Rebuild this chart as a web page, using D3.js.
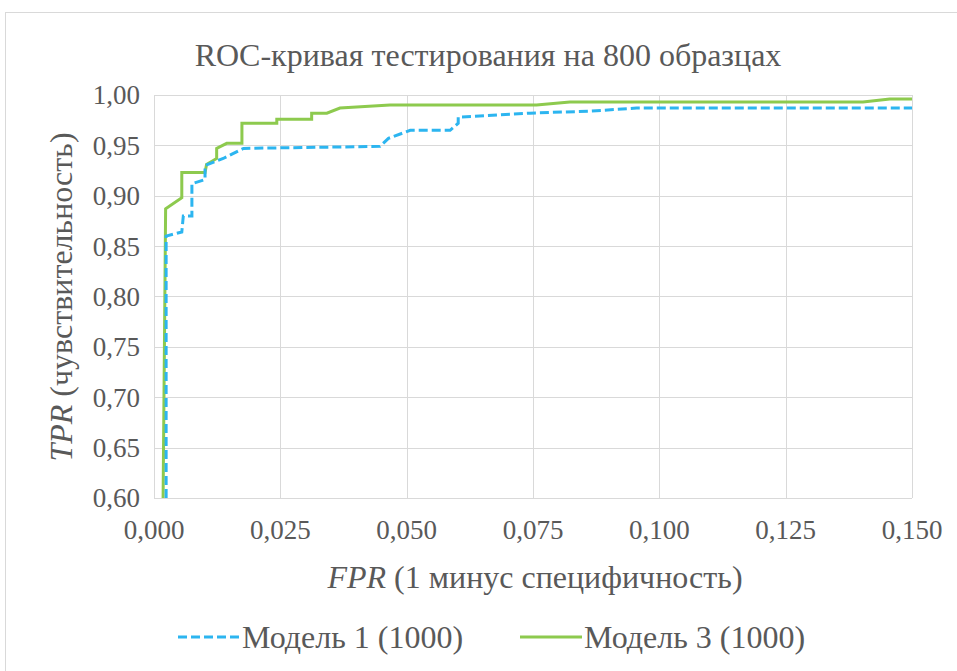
<!DOCTYPE html>
<html>
<head>
<meta charset="utf-8" />
<title>ROC</title>
<script src="https://cdn.jsdelivr.net/npm/d3@7"></script>
<style>
	html, body { margin: 0; background: #fff; }
	svg text { font-family: 'Liberation Serif', 'DejaVu Serif', 'Times New Roman', serif; fill: #595959; }
</style>
</head>
<body>
<svg id="chart" width="957" height="671"></svg>
<script>
// data
var xTicks = [0, 0.025, 0.05, 0.075, 0.1, 0.125, 0.15];
var yTicks = [0.6, 0.65, 0.7, 0.75, 0.8, 0.85, 0.9, 0.95, 1.0];

var model1 = [
	[0.0024, 0.600], [0.0024, 0.860], [0.0055, 0.864], [0.0058, 0.880],
	[0.0075, 0.880], [0.0075, 0.912], [0.0101, 0.916], [0.0101, 0.930],
	[0.0137, 0.937], [0.0177, 0.947], [0.0447, 0.949], [0.0464, 0.957],
	[0.0507, 0.965], [0.0586, 0.965], [0.0602, 0.972], [0.0602, 0.978],
	[0.0744, 0.982], [0.0863, 0.984], [0.0955, 0.987], [0.150, 0.987]
];
var model3 = [
	[0.0018, 0.600], [0.0023, 0.887], [0.0055, 0.898], [0.0055, 0.923],
	[0.0101, 0.923], [0.0104, 0.931], [0.0124, 0.937], [0.0124, 0.947],
	[0.0144, 0.952], [0.0174, 0.952], [0.0174, 0.972], [0.0243, 0.972],
	[0.0243, 0.976], [0.0312, 0.976], [0.0312, 0.982], [0.0342, 0.982],
	[0.0368, 0.987], [0.0467, 0.990], [0.0757, 0.990], [0.0823, 0.993],
	[0.1403, 0.993], [0.1456, 0.996], [0.150, 0.996]
];
var seriesNames = ["Модель 1 (1000)", "Модель 3 (1000)"];
var seriesColors = ["#2cb5f0", "#8dca4e"];

var svg = d3.select("#chart");
var fmt = function(d, n) { return d.toFixed(n).replace(".", ","); };

// chart frame
svg.append("rect").attr("x", 5.5).attr("y", 12.5).attr("width", 1000).attr("height", 1000)
	.attr("fill", "none").attr("stroke", "#d9d9d9");

var x = d3.scaleLinear().domain([0, 0.15]).range([154, 912]);
var y = d3.scaleLinear().domain([0.6, 1.0]).range([498, 95]);

// grid
svg.append("g").selectAll("line").data(yTicks).enter().append("line")
	.attr("x1", x(0)).attr("x2", x(0.15))
	.attr("y1", function(d){ return Math.round(y(d)) + 0.5; })
	.attr("y2", function(d){ return Math.round(y(d)) + 0.5; })
	.attr("stroke", "#d9d9d9").attr("stroke-width", 1);
svg.append("g").selectAll("line").data(xTicks).enter().append("line")
	.attr("y1", y(0.6)).attr("y2", y(1.0))
	.attr("x1", function(d){ return Math.round(x(d)) + 0.5; })
	.attr("x2", function(d){ return Math.round(x(d)) + 0.5; })
	.attr("stroke", "#d9d9d9").attr("stroke-width", 1);

// tick labels
svg.append("g").selectAll("text").data(yTicks).enter().append("text")
	.attr("x", 140).attr("y", function(d){ return y(d); })
	.attr("dy", "0.35em").attr("text-anchor", "end")
	.style("font-size", "27px")
	.text(function(d){ return fmt(d, 2); });
svg.append("g").selectAll("text").data(xTicks).enter().append("text")
	.attr("x", function(d){ return x(d); }).attr("y", 539)
	.attr("text-anchor", "middle")
	.style("font-size", "27px")
	.text(function(d){ return fmt(d, 3); });

// title
svg.append("text").attr("x", 488).attr("y", 66).attr("text-anchor", "middle")
	.style("font-size", "32px")
	.text("ROC-кривая  тестирования на 800 образцах");

// axis titles
var xt = svg.append("text").attr("x", 535).attr("y", 588).attr("text-anchor", "middle")
	.style("font-size", "32px");
xt.append("tspan").style("font-style", "italic").text("FPR");
xt.append("tspan").text(" (1 минус специфичность)");

var yt = svg.append("text").attr("transform", "translate(72,297) rotate(-90)")
	.attr("text-anchor", "middle").style("font-size", "32px");
yt.append("tspan").style("font-style", "italic").text("TPR");
yt.append("tspan").text(" (чувствительность)");

// lines
var line = d3.line().x(function(d){ return x(d[0]); }).y(function(d){ return y(d[1]); });
svg.append("path").datum(model3).attr("d", line)
	.attr("fill", "none").attr("stroke", seriesColors[1]).attr("stroke-width", 3);
svg.append("path").datum(model1).attr("d", line)
	.attr("fill", "none").attr("stroke", seriesColors[0]).attr("stroke-width", 3)
	.attr("stroke-dasharray", "9,4");

// legend
var legend = [
	{ name: seriesNames[0], color: seriesColors[0], dash: "9,4", x: 178 },
	{ name: seriesNames[1], color: seriesColors[1], dash: null, x: 520 }
];
var lg = svg.append("g").selectAll("g").data(legend).enter().append("g");
lg.append("line")
	.attr("x1", function(d){ return d.x; }).attr("x2", function(d){ return d.x + 62; })
	.attr("y1", 637).attr("y2", 637)
	.attr("stroke", function(d){ return d.color; }).attr("stroke-width", 3)
	.attr("stroke-dasharray", function(d){ return d.dash; });
lg.append("text")
	.attr("x", function(d){ return d.x + 64; }).attr("y", 648)
	.style("font-size", "32px")
	.text(function(d){ return d.name; });
</script>
</body>
</html>
